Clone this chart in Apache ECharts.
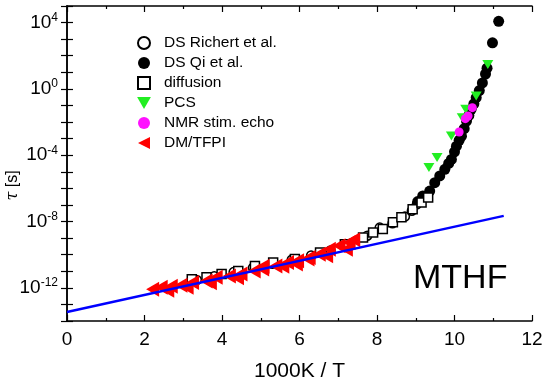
<!DOCTYPE html>
<html><head><meta charset="utf-8">
<script src="https://cdn.jsdelivr.net/npm/echarts@6/dist/echarts.min.js"></script>
<style>html,body{margin:0;padding:0;background:#fff}#c{width:543px;height:381px}</style>
</head><body><div id="c"></div>
<script>
// Data (x = 1000K/T, y = tau in seconds)
const richertX = [3.35,3.8,4.3,4.8,5.3,5.8,6.3,6.8,7.3,7.75,8.07,8.4,8.72,8.9,9.03];
const richertY = [3.0e-12,5.0e-12,8.9e-12,1.66e-11,2.8e-11,5.0e-11,8.9e-11,1.8e-10,4.5e-10,1.4e-9,4.3e-9,7.9e-9,2.0e-8,4.5e-8,1.1e-7];

const qiX = [9.05,9.18,9.36,9.49,9.62,9.75,9.85,9.92,10.0,10.05,10.12,10.18,10.25,10.31,10.37,10.43,10.5,10.56,10.64,10.72,10.8,10.84,10.98,11.14];
const qiY = [1.6e-7,3.5e-7,6.9e-7,2.2e-6,5.6e-6,1.4e-5,3.2e-5,5.6e-5,1.6e-4,3.5e-4,7.9e-4,1.4e-3,4.0e-3,1.15e-2,2.5e-2,5.9e-2,0.126,0.3,0.79,2.3,7.9,17.8,600,12000];

const diffX = [3.22,3.6,3.99,4.42,4.85,5.32,5.88,6.53,7.17,7.64,7.9,8.15,8.41,8.63,8.92,9.15,9.32];
const diffY = [3.3e-12,4.3e-12,6.8e-12,1.05e-11,2.1e-11,3.4e-11,5.4e-11,1.35e-10,4.3e-10,1.1e-9,2.2e-9,3.5e-9,9.1e-9,1.8e-8,5.5e-8,1.4e-7,2.8e-7];

const pcsX = [9.34,9.55,9.92,10.2,10.29,10.56,10.86];
const pcsY = [1.8e-5,7.2e-5,1.45e-3,0.018,0.059,0.37,30];

const nmrX = [10.12,10.28,10.35,10.46];
const nmrY = [2.5e-3,0.016,0.023,0.074];

const dmX = [2.21,2.43,2.6,2.69,2.94,3.1,3.24,3.59,3.7,3.85,4.19,4.4,4.49,4.83,5.05,5.06,5.39,5.57,5.69,5.92,5.95,6.22,6.25,6.51,6.7,6.77,7.02,7.21,7.28,7.4];
const dmY = [8.3e-13,1.1e-12,7.1e-13,1.26e-12,1.45e-12,1.1e-12,2.1e-12,2.6e-12,2.0e-12,4.3e-12,5.2e-12,4.0e-12,6.8e-12,1.05e-11,1.35e-11,2.0e-11,2.1e-11,2.0e-11,3.4e-11,2.7e-11,4.3e-11,5.4e-11,6.8e-11,1.07e-10,8.5e-11,2.1e-10,3.4e-10,2.1e-10,5.4e-10,7.9e-10];

const lineX = [0, 11.27];
const lineY = [3.5e-14, 2.2e-8];

const names = ['DS Richert et al.','DS Qi et al.','diffusion','PCS','NMR stim. echo','DM/TFPI'];
const xTicks = {min:0, max:12, interval:2};
const yRange = {min:1e-14, max:1e5};

const zip = (a,b) => a.map((v,i)=>[v,b[i]]);
const FONT = 'Liberation Sans';
const leftTri = 'path://M0,50 L100,0 L100,100 Z';
const downTri = 'path://M0,0 L100,0 L50,87 Z';
const square = 'path://M0,0 L100,0 L100,100 L0,100 Z';

const chart = echarts.init(document.getElementById('c'));
const axisLine = {show:true, lineStyle:{color:'#000', width:1.5}};
chart.setOption({
  animation:false,
  backgroundColor:'#fff',
  textStyle:{fontFamily:FONT},
  grid:{left:67, right:11, top:6, bottom:60, containLabel:false, outerBoundsMode:'none'},
  legend:{
    orient:'vertical', left:132, top:30, itemWidth:30, itemHeight:12, itemGap:4,
    data:[
      {name:names[0]},
      {name:names[1]},
      {name:names[2], icon:square},
      {name:names[3]},
      {name:names[4]},
      {name:names[5]}
    ],
    textStyle:{fontFamily:FONT, fontSize:15.5, color:'#000'}
  },
  xAxis:[{
    type:'value', min:xTicks.min, max:xTicks.max, interval:xTicks.interval,
    name:'1000K / T', nameLocation:'middle', nameGap:40, nameMoveOverlap:false,
    nameTextStyle:{fontFamily:FONT, fontSize:21, color:'#000'},
    axisLine:axisLine, splitLine:{show:false},
    axisTick:{inside:true, length:6, lineStyle:{color:'#000', width:1.2}},
    minorTick:{show:true, splitNumber:2, length:3, lineStyle:{color:'#000', width:1.2}},
    axisLabel:{fontFamily:FONT, fontSize:19, color:'#000', margin:9}
  },{
    type:'value', position:'top', min:xTicks.min, max:xTicks.max, interval:xTicks.interval,
    axisLine:axisLine, splitLine:{show:false},
    axisTick:{inside:true, length:6, lineStyle:{color:'#000', width:1.2}},
    minorTick:{show:true, splitNumber:2, length:3, lineStyle:{color:'#000', width:1.2}},
    axisLabel:{show:false}
  }],
  yAxis:[{
    type:'log', logBase:10, min:yRange.min, max:yRange.max, interval:1,
    name:'{i|τ} [s]', nameLocation:'middle', nameGap:46, nameRotate:90, nameMoveOverlap:false,
    nameTextStyle:{fontFamily:FONT, fontSize:16, color:'#000', padding:[0,44,0,0],
      rich:{i:{fontFamily:'DejaVu Serif', fontStyle:'italic', fontSize:16, color:'#000'}}},
    axisLine:axisLine, splitLine:{show:false},
    axisTick:{inside:true, length:6, lineStyle:{color:'#000', width:1.2}},
    axisLabel:{
      margin:9, color:'#000',
      formatter:function(v){ const e=Math.round(Math.log10(v)); return (e%4===0)?'{b|10}{s|'+e+'}':''; },
      rich:{b:{fontFamily:FONT, fontSize:19, color:'#000'}, s:{fontFamily:FONT, fontSize:12, color:'#000', padding:[0,0,10,0]}}
    }
  },{
    type:'log', logBase:10, min:yRange.min, max:yRange.max, interval:1, position:'right',
    axisLine:axisLine, splitLine:{show:false},
    axisTick:{inside:true, length:6, lineStyle:{color:'#000', width:1.2}},
    axisLabel:{show:false}
  }],
  graphic:[{type:'text', left:413, top:262, style:{text:'MTHF', fontFamily:FONT, fontSize:34, fill:'#000'}}],
  series:[
    {name:names[0], type:'scatter', data:zip(richertX,richertY), symbol:'circle', symbolSize:9,
      itemStyle:{color:'#fff', borderColor:'#000', borderWidth:1.5, opacity:1}},
    {name:names[1], type:'scatter', data:zip(qiX,qiY), symbol:'circle', symbolSize:11,
      itemStyle:{color:'#000', opacity:1}},
    {name:names[2], type:'scatter', data:zip(diffX,diffY), symbol:square, symbolSize:9,
      itemStyle:{color:'#fff', borderColor:'#000', borderWidth:1.5, opacity:1}},
    {name:names[3], type:'scatter', data:zip(pcsX,pcsY), symbol:downTri, symbolSize:[11,9],
      itemStyle:{color:'#22ee22', opacity:1}},
    {name:names[4], type:'scatter', data:zip(nmrX,nmrY), symbol:'circle', symbolSize:9,
      itemStyle:{color:'#ff11ff', opacity:1}},
    {name:names[5], type:'scatter', data:zip(dmX,dmY), symbol:leftTri, symbolSize:[13,15],
      itemStyle:{color:'#ff0000', opacity:1}},
    {name:'fit', type:'line', data:zip(lineX,lineY), symbol:'none',
      lineStyle:{color:'#0000ff', width:2.5}, z:5}
  ]
});
</script></body></html>
